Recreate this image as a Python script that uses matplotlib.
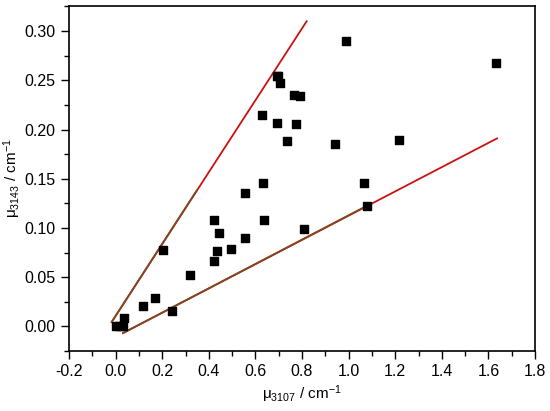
import matplotlib
matplotlib.use("Agg")
import matplotlib.pyplot as plt
from matplotlib.ticker import MultipleLocator

plt.rcParams['font.family'] = ['Liberation Sans', 'DejaVu Sans']
plt.rcParams['mathtext.fontset'] = 'custom'
plt.rcParams['mathtext.rm'] = 'Liberation Sans'
plt.rcParams['mathtext.it'] = 'Liberation Sans'

# measured points
mu_3107 = [0.0, 0.015, 0.03, 0.035, 0.119, 0.170, 0.241, 0.203, 0.318,
           0.421, 0.444, 0.421, 0.437, 0.497, 0.557, 0.554, 0.637, 0.628,
           0.634, 0.693, 0.698, 0.706, 0.694, 0.766, 0.790, 0.776, 0.737,
           0.990, 0.943, 1.218, 1.067, 1.078, 0.807, 1.633]
mu_3143 = [0.000, 0.000, 0.000, 0.009, 0.021, 0.029, 0.016, 0.078, 0.0525,
           0.1076, 0.0944, 0.0667, 0.0768, 0.0789, 0.0896, 0.136, 0.1076, 0.215,
           0.146, 0.254, 0.254, 0.247, 0.207, 0.2355, 0.234, 0.206, 0.1885,
           0.290, 0.1855, 0.1895, 0.1455, 0.1228, 0.0988, 0.268]

# bounding lines
upper_x = [-0.017, 0.820]
upper_y = [0.0044, 0.310]
lower_x = [0.032, 1.637]
lower_y = [-0.0068, 0.191]
# darker (brown) overlay on the lower part of each line
upper_dark_x = [-0.017, 0.348]
upper_dark_y = [0.0044, 0.138]
lower_dark_x = [0.032, 1.078]
lower_dark_y = [-0.0068, 0.1225]

fig = plt.figure(figsize=(5.5, 4.11), dpi=100)
ax = fig.add_axes([69 / 550, 1 - 351 / 411, (535 - 69) / 550, (351 - 6) / 411])

ax.plot(upper_x, upper_y, color='#cc1111', lw=1.3, zorder=1)
ax.plot(lower_x, lower_y, color='#cc1111', lw=1.3, zorder=1)
ax.plot(upper_dark_x, upper_dark_y, color='#7a4a22', lw=1.3, zorder=1)
ax.plot(lower_dark_x, lower_dark_y, color='#7a4a22', lw=1.3, zorder=1)
ax.scatter(mu_3107, mu_3143, marker='s', s=34, c='black', zorder=2)

ax.set_xlim(-0.2, 1.8)
ax.set_ylim(-0.025, 0.3255)
ax.xaxis.set_major_locator(MultipleLocator(0.2))
ax.xaxis.set_minor_locator(MultipleLocator(0.1))
ax.yaxis.set_major_locator(MultipleLocator(0.05))
ax.yaxis.set_minor_locator(MultipleLocator(0.025))
ax.set_xticklabels([f"{v:.1f}" for v in ax.get_xticks()])
ax.set_yticklabels([f"{v:.2f}" for v in ax.get_yticks()])
ax.tick_params(which='major', direction='out', length=6, width=1, labelsize=11.5)
ax.tick_params(which='minor', direction='out', length=3.5, width=1)
for s in ax.spines.values():
    s.set_linewidth(1.2)

ax.set_xlabel(r"$\mathrm{\mu_{3107}}$ / cm$^{-1}$", fontsize=11, labelpad=3)
ax.set_ylabel(r"$\mathrm{\mu_{3143}}$ / cm$^{-1}$", fontsize=11, labelpad=1)

fig.savefig("out.png", dpi=100)
